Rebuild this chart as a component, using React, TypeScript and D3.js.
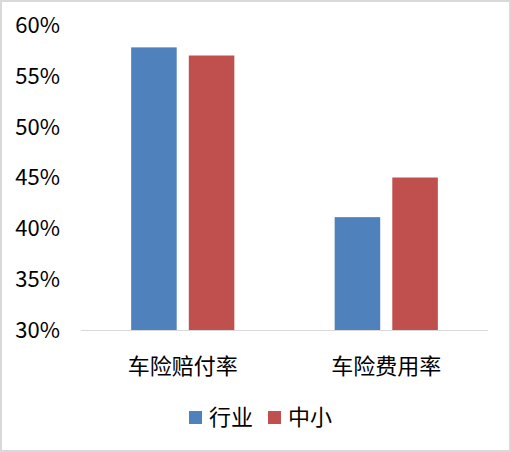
import * as d3 from 'd3'
import { useEffect, useRef } from 'react'

const categories = ['车险赔付率', '车险费用率']
const seriesNames = ['行业', '中小']
const industry = [57.8, 41.1]
const smallMid = [57.0, 45.0]
const yTicks = [30, 35, 40, 45, 50, 55, 60]
const colors = ['#4f81bd', '#c0504d']

export default function App() {
    const svgRef = useRef<SVGSVGElement>(null)
    const width = 511
    const height = 452

    useEffect(() => {
        if (!svgRef.current) return
        const svg = d3.select(svgRef.current)
        svg.selectAll('*').remove()

        const font = '"Noto Sans CJK SC", "Noto Sans", sans-serif'
        const plot = { left: 81, right: 488, top: 25, bottom: 330 }

        // outer frame
        svg.append('rect')
            .attr('x', 1)
            .attr('y', 1)
            .attr('width', width - 2)
            .attr('height', height - 2)
            .attr('fill', '#fff')
            .attr('stroke', '#d9d9d9')
            .attr('stroke-width', 2)

        const y = d3.scaleLinear().domain([30, 60]).range([plot.bottom, plot.top])
        const x0 = d3
            .scaleBand()
            .domain(categories)
            .range([plot.left, plot.right])
            .paddingInner(0)
        const x1 = d3
            .scaleBand()
            .domain(seriesNames)
            .range([0, x0.bandwidth()])
            .paddingInner(0.21)
            .paddingOuter(0.87)

        // y labels
        svg.append('g')
            .selectAll('text')
            .data(yTicks)
            .join('text')
            .attr('x', 60)
            .attr('y', (d) => y(d))
            .attr('dy', '0.36em')
            .attr('text-anchor', 'end')
            .attr('font-family', font)
            .attr('font-size', 22)
            .attr('fill', '#000')
            .text((d) => `${d}%`)

        // bars
        const values = [industry, smallMid]
        seriesNames.forEach((s, si) => {
            svg.append('g')
                .selectAll('rect')
                .data(categories)
                .join('rect')
                .attr('x', (c) => (x0(c) as number) + (x1(s) as number))
                .attr('y', (c, i) => y(values[si][i]))
                .attr('width', x1.bandwidth())
                .attr('height', (c, i) => plot.bottom - y(values[si][i]))
                .attr('fill', colors[si])
        })

        // axis line
        svg.append('line')
            .attr('x1', plot.left)
            .attr('x2', plot.right)
            .attr('y1', plot.bottom + 0.5)
            .attr('y2', plot.bottom + 0.5)
            .attr('stroke', '#d9d9d9')
            .attr('stroke-width', 1)

        // category labels
        svg.append('g')
            .selectAll('text')
            .data(categories)
            .join('text')
            .attr('x', (c) => (x0(c) as number) + x0.bandwidth() / 2)
            .attr('y', 366)
            .attr('dy', '0.36em')
            .attr('text-anchor', 'middle')
            .attr('font-family', font)
            .attr('font-size', 22)
            .attr('fill', '#000')
            .text((d) => d)

        // legend
        const legendX = [189, 268]
        seriesNames.forEach((s, i) => {
            const g = svg.append('g').attr('transform', `translate(${legendX[i]},411)`)
            g.append('rect').attr('width', 13).attr('height', 13).attr('fill', colors[i])
            g.append('text')
                .attr('x', 20)
                .attr('y', 6.5)
                .attr('dy', '0.36em')
                .attr('font-family', font)
                .attr('font-size', 22)
                .attr('fill', '#000')
                .text(s)
        })
    }, [])

    return (
        <>
            <style>{'body{margin:0}'}</style>
            <svg ref={svgRef} width={width} height={height} style={{ display: 'block' }} />
        </>
    )
}
